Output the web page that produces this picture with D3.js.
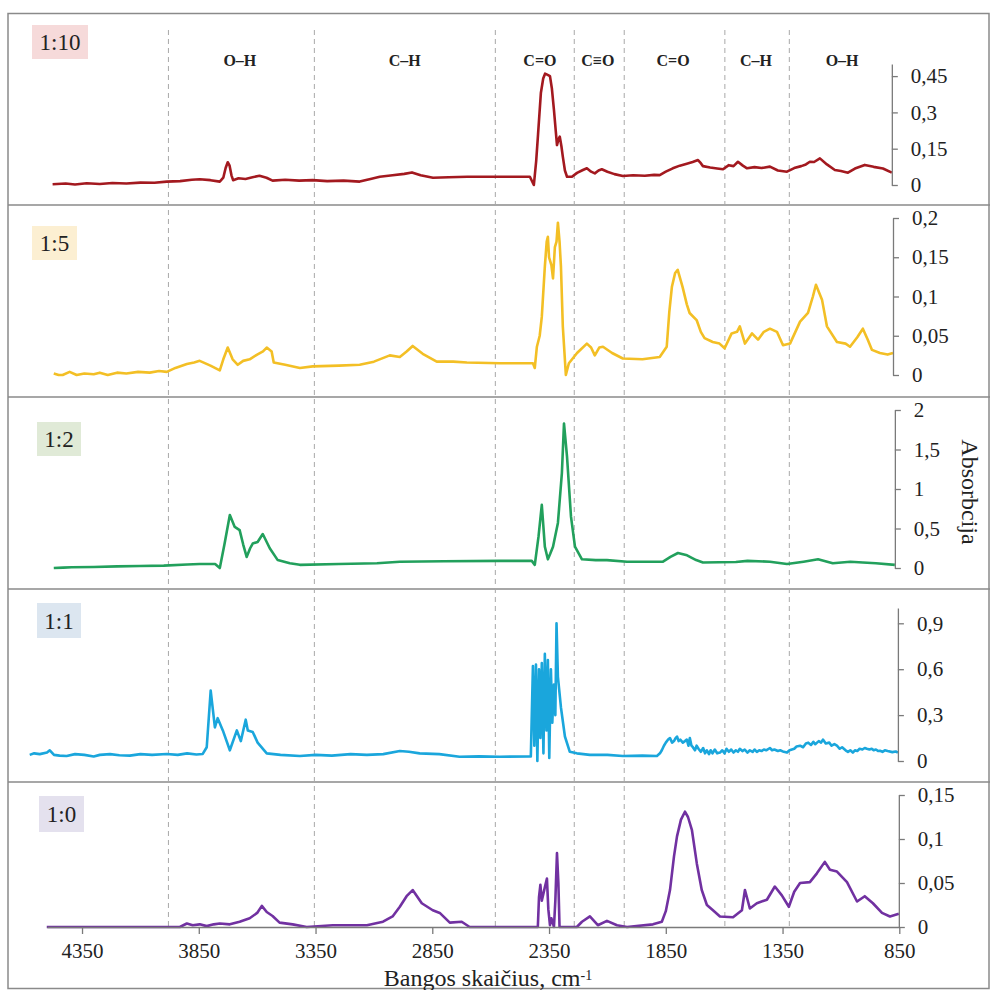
<!DOCTYPE html>
<html>
<head>
<meta charset="utf-8">
<script src="https://cdn.jsdelivr.net/npm/d3@7/dist/d3.min.js"></script>
<style>
  body { margin: 0; background: #fff; }
  svg text { font-family: "Liberation Serif", "Times New Roman", serif; fill: #222; }
</style>
</head>
<body>
<div id="chart"></div>
<script>

// ---- data (wavenumber cm-1, absorbance) ----
var ratios = ["1:10", "1:5", "1:2", "1:1", "1:0"];

var spec_1_10 = [[4476,0.003],[4420,0.006],[4380,0.002],[4330,0.007],[4274,0.004],[4220,0.008],[4160,0.006],[4100,0.01],[4040,0.009],[3987,0.014],[3930,0.016],[3880,0.022],[3846,0.024],[3800,0.02],[3760,0.014],[3745,0.03],[3735,0.07],[3726,0.094],[3718,0.08],[3710,0.04],[3703,0.02],[3680,0.028],[3650,0.025],[3620,0.032],[3590,0.038],[3560,0.03],[3534,0.018],[3480,0.022],[3420,0.018],[3363,0.02],[3300,0.016],[3230,0.018],[3161,0.014],[3110,0.026],[3075,0.034],[3020,0.04],[2970,0.046],[2937,0.052],[2900,0.04],[2847,0.03],[2780,0.032],[2700,0.034],[2600,0.034],[2432,0.034],[2415,0],[2405,0.1],[2397,0.21],[2385,0.38],[2375,0.44],[2367,0.46],[2356,0.455],[2346,0.45],[2338,0.4],[2329,0.31],[2316,0.165],[2309,0.19],[2304,0.2],[2297,0.16],[2291,0.117],[2282,0.06],[2273,0.034],[2252,0.034],[2230,0.05],[2205,0.062],[2188,0.069],[2170,0.055],[2154,0.048],[2138,0.06],[2124,0.065],[2100,0.055],[2070,0.045],[2034,0.037],[1990,0.04],[1940,0.038],[1900,0.042],[1876,0.041],[1850,0.055],[1820,0.069],[1790,0.08],[1760,0.088],[1735,0.095],[1712,0.103],[1700,0.09],[1691,0.078],[1660,0.072],[1630,0.068],[1605,0.065],[1580,0.082],[1560,0.078],[1541,0.096],[1520,0.08],[1502,0.069],[1470,0.074],[1440,0.07],[1404,0.076],[1370,0.06],[1331,0.055],[1300,0.07],[1270,0.078],[1250,0.085],[1233,0.096],[1215,0.095],[1190,0.11],[1160,0.085],[1126,0.062],[1100,0.058],[1070,0.051],[1040,0.068],[998,0.083],[960,0.075],[920,0.068],[882,0.051]];

var spec_1_5 = [[4471,0.002],[4450,0.0],[4433,0.0],[4403,0.004],[4373,0.0],[4340,0.002],[4300,0.001],[4274,0.003],[4240,0.0],[4200,0.003],[4160,0.002],[4110,0.004],[4060,0.003],[4020,0.005],[3987,0.004],[3950,0.009],[3901,0.014],[3870,0.016],[3846,0.018],[3800,0.012],[3760,0.006],[3745,0.02],[3726,0.035],[3705,0.02],[3683,0.013],[3660,0.018],[3632,0.02],[3600,0.026],[3575,0.03],[3559,0.035],[3538,0.03],[3529,0.016],[3480,0.013],[3417,0.009],[3362,0.011],[3250,0.012],[3161,0.013],[3100,0.017],[3032,0.025],[2989,0.023],[2960,0.03],[2934,0.037],[2891,0.027],[2831,0.017],[2760,0.017],[2702,0.016],[2561,0.015],[2419,0.015],[2411,0.009],[2402,0.036],[2390,0.05],[2381,0.074],[2368,0.138],[2360,0.17],[2355,0.176],[2350,0.15],[2346,0.146],[2340,0.14],[2333,0.123],[2325,0.163],[2318,0.17],[2312,0.194],[2305,0.17],[2299,0.138],[2291,0.062],[2278,0.0],[2265,0.015],[2230,0.028],[2188,0.04],[2170,0.035],[2154,0.025],[2135,0.035],[2119,0.036],[2080,0.028],[2034,0.021],[1950,0.02],[1876,0.023],[1846,0.036],[1835,0.08],[1824,0.112],[1810,0.13],[1799,0.134],[1778,0.112],[1760,0.09],[1748,0.079],[1718,0.07],[1700,0.055],[1684,0.047],[1649,0.042],[1620,0.04],[1598,0.034],[1568,0.053],[1545,0.055],[1533,0.062],[1511,0.04],[1481,0.053],[1455,0.045],[1430,0.055],[1404,0.059],[1374,0.055],[1348,0.038],[1318,0.04],[1275,0.068],[1241,0.079],[1220,0.1],[1207,0.115],[1181,0.096],[1160,0.062],[1117,0.042],[1080,0.04],[1061,0.036],[1030,0.048],[1006,0.059],[985,0.045],[967,0.032],[933,0.028],[900,0.026],[877,0.028]];

var spec_1_2 = [[4471,0.0],[4430,0.005],[4394,0.01],[4300,0.012],[4200,0.02],[4103,0.025],[4000,0.03],[3900,0.045],[3846,0.05],[3780,0.05],[3760,0.0],[3740,0.3],[3717,0.67],[3696,0.52],[3675,0.48],[3660,0.3],[3645,0.14],[3630,0.25],[3619,0.31],[3598,0.33],[3576,0.43],[3546,0.25],[3512,0.1],[3460,0.06],[3417,0.04],[3250,0.05],[3087,0.06],[2989,0.08],[2800,0.085],[2561,0.09],[2424,0.09],[2411,0.04],[2395,0.4],[2381,0.8],[2368,0.27],[2355,0.11],[2345,0.18],[2333,0.27],[2312,0.57],[2295,1.2],[2286,1.83],[2273,1.41],[2256,0.65],[2239,0.27],[2209,0.11],[2150,0.1],[2102,0.1],[2016,0.08],[1862,0.08],[1830,0.14],[1798,0.19],[1759,0.16],[1720,0.1],[1691,0.07],[1550,0.075],[1500,0.09],[1404,0.08],[1331,0.05],[1260,0.08],[1198,0.11],[1135,0.06],[1060,0.08],[1006,0.07],[950,0.06],[869,0.04]];

var spec_1_1 = [[4574,0.04],[4555,0.05],[4531,0.045],[4500,0.055],[4488,0.07],[4470,0.04],[4446,0.035],[4416,0.033],[4380,0.045],[4340,0.04],[4300,0.03],[4274,0.04],[4230,0.045],[4190,0.038],[4145,0.035],[4100,0.045],[4050,0.04],[3987,0.046],[3940,0.04],[3900,0.05],[3860,0.042],[3833,0.046],[3816,0.09],[3799,0.46],[3781,0.22],[3769,0.28],[3747,0.2],[3717,0.07],[3687,0.2],[3670,0.13],[3649,0.27],[3640,0.2],[3619,0.19],[3598,0.12],[3559,0.05],[3500,0.04],[3417,0.033],[3350,0.04],[3280,0.035],[3200,0.045],[3130,0.04],[3060,0.045],[2989,0.065],[2950,0.06],[2904,0.05],[2820,0.045],[2733,0.028],[2650,0.03],[2561,0.028],[2432,0.03],[2428,0.03],[2419,0.62],[2413,0.1],[2406,0.63],[2400,0.0],[2393,0.6],[2387,0.15],[2381,0.64],[2374,0.05],[2368,0.7],[2361,0.2],[2355,0.66],[2349,0.02],[2342,0.6],[2336,0.25],[2329,0.5],[2323,0.3],[2318,0.9],[2312,0.55],[2299,0.35],[2282,0.16],[2261,0.06],[2231,0.05],[2175,0.04],[2100,0.04],[2034,0.033],[1950,0.035],[1888,0.033],[1875,0.05],[1867,0.07],[1858,0.1],[1850,0.12],[1840,0.14],[1832,0.15],[1823,0.12],[1815,0.13],[1808,0.15],[1802,0.16],[1795,0.13],[1788,0.14],[1777,0.12],[1768,0.13],[1760,0.14],[1753,0.1],[1747,0.15],[1740,0.1],[1734,0.09],[1725,0.07],[1718,0.1],[1710,0.08],[1700,0.06],[1690,0.085],[1682,0.05],[1674,0.07],[1665,0.045],[1658,0.07],[1650,0.05],[1640,0.075],[1630,0.05],[1618,0.055],[1608,0.07],[1598,0.05],[1590,0.08],[1580,0.06],[1570,0.075],[1560,0.055],[1550,0.07],[1541,0.06],[1533,0.08],[1522,0.065],[1512,0.075],[1500,0.055],[1490,0.07],[1478,0.06],[1470,0.075],[1460,0.06],[1450,0.07],[1440,0.065],[1430,0.075],[1420,0.07],[1404,0.085],[1395,0.07],[1385,0.075],[1370,0.065],[1360,0.07],[1345,0.06],[1331,0.055],[1320,0.07],[1310,0.075],[1300,0.08],[1290,0.095],[1275,0.1],[1262,0.09],[1250,0.115],[1240,0.12],[1228,0.105],[1218,0.125],[1210,0.11],[1195,0.13],[1185,0.12],[1177,0.14],[1165,0.115],[1150,0.12],[1140,0.1],[1128,0.11],[1117,0.1],[1105,0.08],[1095,0.09],[1080,0.07],[1070,0.06],[1060,0.07],[1049,0.055],[1040,0.07],[1030,0.065],[1020,0.08],[1008,0.075],[998,0.085],[989,0.08],[978,0.075],[968,0.08],[960,0.07],[950,0.075],[940,0.065],[933,0.067],[922,0.06],[912,0.07],[900,0.065],[880,0.058],[865,0.062],[856,0.055]];

var spec_1_0 = [[4501,0],[3931,0],[3901,0.004],[3876,0.002],[3846,0.003],[3816,0.001],[3786,0.003],[3760,0.004],[3717,0.003],[3675,0.006],[3632,0.01],[3600,0.016],[3580,0.024],[3559,0.017],[3534,0.0125],[3504,0.005],[3448,0.003],[3388,0],[3276,0.002],[3130,0.002],[3061,0.006],[3020,0.012],[2989,0.023],[2960,0.035],[2934,0.042],[2895,0.027],[2848,0.019],[2818,0.016],[2775,0.005],[2724,0.006],[2690,0],[2398,0],[2393,0.034],[2387,0.048],[2381,0.03],[2368,0.045],[2359,0.055],[2353,0.02],[2346,0.002],[2340,0.01],[2329,0],[2323,0.03],[2316,0.084],[2310,0.05],[2305,0],[2231,0],[2209,0.006],[2175,0.012],[2141,0.002],[2102,0.007],[2059,0.002],[2016,0],[1905,0.003],[1867,0.006],[1850,0.018],[1832,0.042],[1815,0.08],[1802,0.103],[1785,0.122],[1768,0.131],[1755,0.125],[1738,0.11],[1717,0.072],[1696,0.042],[1674,0.025],[1648,0.019],[1618,0.012],[1562,0.011],[1524,0.019],[1511,0.042],[1490,0.021],[1460,0.027],[1417,0.031],[1383,0.046],[1353,0.036],[1323,0.023],[1300,0.04],[1275,0.05],[1233,0.051],[1203,0.061],[1169,0.074],[1147,0.065],[1117,0.063],[1074,0.051],[1031,0.029],[998,0.035],[963,0.027],[924,0.016],[890,0.012],[852,0.015]];

var spectra = [spec_1_10, spec_1_5, spec_1_2, spec_1_1, spec_1_0];

// y axis extents and ticks per panel
var yMaxValues = [0.5, 0.2, 2, 1, 0.15];
var yTickValues = [
  [0, 0.15, 0.3, 0.45],
  [0, 0.05, 0.1, 0.15, 0.2],
  [0, 0.5, 1, 1.5, 2],
  [0, 0.3, 0.6, 0.9],
  [0, 0.05, 0.1, 0.15]
];

var xTickValues = [4350, 3850, 3350, 2850, 2350, 1850, 1350, 850];

// band borders (dashed) and band names
var bandEdges = [3980, 3355, 2580, 2242, 2028, 1597, 1321];
var bandNames = ["O–H", "C–H", "C=O", "C≡O", "C=O", "C–H", "O–H"];
var bandCenters = [3674, 2968, 2389, 2141, 1819, 1464, 1095];

// ---- layout / style ----
var svgWidth = 990;
var svgHeight = 990;

var lineColors = ["#a3191f", "#f3bf25", "#22a05c", "#1aa6dc", "#7131a1"];
var boxColors = ["#f6dada", "#fcefd2", "#e0ead7", "#dce6f0", "#e4e1ee"];

// pixel placement of each stacked panel: zero line, top of y domain, label box
var panels = [
  { yZero: 185, yTop: 64,  box: [32, 25, 56, 34] },
  { yZero: 375, yTop: 218, box: [32, 226, 45, 34] },
  { yZero: 568, yTop: 410, box: [37, 422, 44, 34] },
  { yZero: 761, yTop: 608, box: [37, 603, 44, 35] },
  { yZero: 927, yTop: 795, box: [39, 796, 45, 36] }
];
var separators = [205, 397, 589, 782];

var fmt = function(d) { return String(d).replace(".", ","); };

var svg = d3.select("#chart")
  .append("svg")
  .attr("width", svgWidth)
  .attr("height", svgHeight);

var x = d3.scaleLinear()
  .domain([4500, 850])
  .range([47, 899.3]);

// outer frame + panel separators
svg.append("rect")
  .attr("x", 8)
  .attr("y", 13.5)
  .attr("width", 981)
  .attr("height", 975)
  .attr("fill", "none")
  .attr("stroke", "#8a8a8a")
  .attr("stroke-width", 1.5);

svg.selectAll(".sep")
  .data(separators)
  .enter()
  .append("line")
  .attr("class", "sep")
  .attr("x1", 8)
  .attr("x2", 990)
  .attr("y1", d => d)
  .attr("y2", d => d)
  .attr("stroke", "#8a8a8a")
  .attr("stroke-width", 1.5);

// dashed band borders across all panels
svg.selectAll(".band")
  .data(bandEdges)
  .enter()
  .append("line")
  .attr("class", "band")
  .attr("x1", d => x(d))
  .attr("x2", d => x(d))
  .attr("y1", 30)
  .attr("y2", 927)
  .attr("stroke", "#a8a8a8")
  .attr("stroke-width", 1)
  .attr("stroke-dasharray", "5,4");

svg.selectAll(".bandName")
  .data(bandNames)
  .enter()
  .append("text")
  .attr("class", "bandName")
  .attr("x", (d, i) => x(bandCenters[i]))
  .attr("y", 66)
  .attr("text-anchor", "middle")
  .attr("font-size", "16px")
  .attr("font-weight", "bold")
  .text(d => d);

// one panel per ratio
spectra.forEach(function(data, i) {
  var p = panels[i];

  var y = d3.scaleLinear()
    .domain([0, yMaxValues[i]])
    .range([p.yZero, p.yTop]);

  var line = d3.line()
    .x(d => x(d[0]))
    .y(d => y(d[1]));

  svg.append("path")
    .datum(data)
    .attr("d", line)
    .attr("fill", "none")
    .attr("stroke", lineColors[i])
    .attr("stroke-width", 2.6)
    .attr("stroke-linejoin", "round");

  // right axis sits where the spectrum ends
  var lastWn = data[data.length - 1][0];
  var rightAxis = d3.axisRight(y)
    .tickValues(yTickValues[i])
    .tickFormat(fmt)
    .tickSize(6)
    .tickSizeOuter(0)
    .tickPadding(13);

  var yAxis = svg.append("g")
    .attr("transform", `translate(${x(lastWn)}, 0)`)
    .call(rightAxis);
  yAxis.selectAll("path, line").attr("stroke", "#7a7a7a").attr("stroke-width", 1.3);
  yAxis.selectAll("text").attr("font-size", "21px");

  // ratio label box
  svg.append("rect")
    .attr("x", p.box[0])
    .attr("y", p.box[1])
    .attr("width", p.box[2])
    .attr("height", p.box[3])
    .attr("fill", boxColors[i]);

  svg.append("text")
    .attr("x", p.box[0] + p.box[2] / 2)
    .attr("y", p.box[1] + p.box[3] / 2)
    .attr("dy", "0.35em")
    .attr("text-anchor", "middle")
    .attr("font-size", "23px")
    .text(ratios[i]);
});

// bottom x axis (shared)
var bottomAxis = d3.axisBottom(x)
  .tickValues(xTickValues)
  .tickFormat(d3.format("d"))
  .tickSize(7)
  .tickSizeOuter(0)
  .tickPadding(9);

var xAxis = svg.append("g")
  .attr("transform", `translate(0, ${panels[4].yZero})`)
  .call(bottomAxis);
xAxis.selectAll("path, line").attr("stroke", "#7a7a7a").attr("stroke-width", 1.3);
xAxis.selectAll("text").attr("font-size", "21px");

// axis titles
var xTitle = svg.append("text")
  .attr("x", 488)
  .attr("y", 986)
  .attr("text-anchor", "middle")
  .attr("font-size", "24px");
xTitle.append("tspan").text("Bangos skaičius, cm");
xTitle.append("tspan")
  .attr("dy", "-0.45em")
  .attr("font-size", "14px")
  .text("-1");

svg.append("text")
  .attr("transform", "translate(962, 492) rotate(90)")
  .attr("text-anchor", "middle")
  .attr("font-size", "24px")
  .text("Absorbcija");

</script>
</body>
</html>
